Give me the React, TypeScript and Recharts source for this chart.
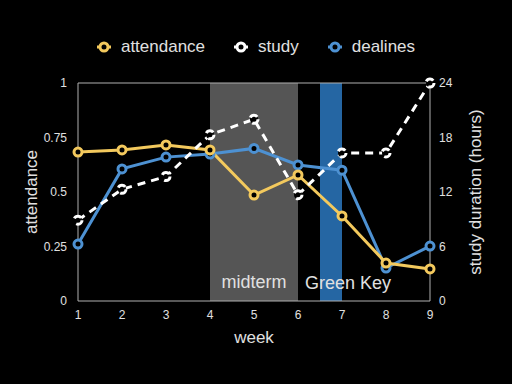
import { ComposedChart, Line, XAxis, YAxis, ReferenceArea, ReferenceLine } from "recharts";

const weeks = [1, 2, 3, 4, 5, 6, 7, 8, 9];
const attendance = [0.683, 0.693, 0.716, 0.693, 0.486, 0.578, 0.39, 0.174, 0.147];
const study = [8.9, 12.3, 13.7, 18.3, 20.0, 11.7, 16.3, 16.3, 24];
const deadlines = [0.261, 0.606, 0.66, 0.674, 0.7, 0.624, 0.6, 0.151, 0.252];

const leftTicks = [0, 0.25, 0.5, 0.75, 1];
const rightTicks = [0, 6, 12, 18, 24];

const YELLOW = "#f3c95d";
const BLUE = "#4d91d2";
const WHITE = "#ffffff";
const AXIS = "#b0b0b0";
const TEXT = "#e0e0e0";

const legendItems = [
  { name: "attendance", color: YELLOW },
  { name: "study", color: WHITE },
  { name: "dealines", color: BLUE },
];

const data = weeks.map((w, i) => ({
  week: w,
  attendance: attendance[i],
  study: study[i],
  deadlines: deadlines[i],
}));

const ChartLegend = () => (
  <div style={{ position: "absolute", top: 37, left: 0, width: 512, display: "flex", justifyContent: "center", alignItems: "center", gap: 29, fontSize: 17, color: TEXT }}>
    {legendItems.map((item) => (
      <div key={item.name} style={{ display: "flex", alignItems: "center" }}>
        <svg width={14} height={14} style={{ marginRight: 10 }}>
          <line x1={0} y1={7} x2={14} y2={7} stroke={item.color} strokeWidth={3} />
          <circle cx={7} cy={7} r={4} fill="#000" stroke={item.color} strokeWidth={3} />
        </svg>
        <span>{item.name}</span>
      </div>
    ))}
  </div>
);

const dot = (color: string) => ({ r: 4, fill: "#000", stroke: color, strokeWidth: 3 });

export default function App() {
  return (
    <div style={{ position: "absolute", left: 0, top: 0, width: 512, height: 384, background: "#000", fontFamily: "'Liberation Sans', Arial, sans-serif" }}>
      <ChartLegend />
      <ComposedChart width={512} height={384} data={data} margin={{ top: 83, right: 22, bottom: 37, left: 18 }}>
        <XAxis
          dataKey="week"
          type="number"
          domain={[1, 9]}
          ticks={weeks}
          height={46}
          stroke={AXIS}
          tickLine={false}
          tickSize={0}
          tickMargin={9}
          tick={{ fill: TEXT, fontSize: 12 }}
          label={{ value: "week", position: "insideBottom", offset: 4, fill: TEXT, fontSize: 17 }}
        />
        <YAxis
          yAxisId="left"
          domain={[0, 1]}
          ticks={leftTicks}
          width={60}
          stroke={AXIS}
          tickLine={false}
          tickSize={0}
          tickMargin={11}
          tick={{ fill: TEXT, fontSize: 12 }}
          label={{ value: "attendance", angle: -90, position: "insideLeft", offset: 13, fill: TEXT, fontSize: 17, style: { textAnchor: "middle" } }}
        />
        <YAxis
          yAxisId="right"
          orientation="right"
          domain={[0, 24]}
          ticks={rightTicks}
          width={60}
          stroke={AXIS}
          tickLine={false}
          tickSize={0}
          tickMargin={9}
          tick={{ fill: TEXT, fontSize: 12 }}
          label={{ value: "study duration (hours)", angle: -90, position: "insideRight", offset: 15, fill: TEXT, fontSize: 17, style: { textAnchor: "middle" } }}
        />
        <ReferenceArea
          yAxisId="left"
          x1={4}
          x2={6}
          fill="#555555"
          fillOpacity={1}
          stroke="none"
          label={{ value: "midterm", position: "insideBottom", offset: 13, fill: TEXT, fontSize: 18 }}
        />
        <ReferenceArea
          yAxisId="left"
          x1={6.5}
          x2={7}
          fill="#2566a3"
          fillOpacity={1}
          stroke="none"
          label={{ value: "Green Key", position: "insideBottom", offset: 12, dx: 17, fill: TEXT, fontSize: 18 }}
        />
        <ReferenceLine yAxisId="left" y={1} stroke={AXIS} />
        <Line yAxisId="left" dataKey="deadlines" name="dealines" stroke={BLUE} strokeWidth={3} dot={dot(BLUE)} isAnimationActive={false} />
        <Line yAxisId="left" dataKey="attendance" name="attendance" stroke={YELLOW} strokeWidth={3} dot={dot(YELLOW)} isAnimationActive={false} />
        <Line yAxisId="right" dataKey="study" name="study" stroke={WHITE} strokeWidth={3} strokeDasharray="8 6" dot={dot(WHITE)} isAnimationActive={false} />
      </ComposedChart>
    </div>
  );
}
